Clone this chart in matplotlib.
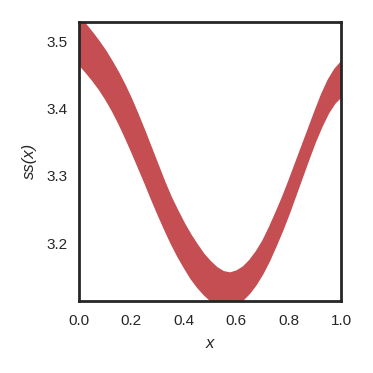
import numpy as np
import matplotlib
matplotlib.use("Agg")
import matplotlib.pyplot as plt
import seaborn as sns

x = [0.0, 0.025, 0.05, 0.075, 0.1, 0.125, 0.15, 0.175, 0.2, 0.225,
     0.25, 0.275, 0.3, 0.325, 0.35, 0.375, 0.4, 0.425, 0.45, 0.475,
     0.5, 0.525, 0.55, 0.575, 0.6, 0.625, 0.65, 0.675, 0.7, 0.725,
     0.75, 0.775, 0.8, 0.825, 0.85, 0.875, 0.9, 0.925, 0.95, 0.975, 1.0]
ss_upper = [3.537, 3.526, 3.514, 3.501, 3.487, 3.471, 3.454, 3.435, 3.414, 3.391,
            3.367, 3.342, 3.317, 3.292, 3.269, 3.249, 3.230, 3.213, 3.198, 3.184,
            3.173, 3.164, 3.158, 3.156, 3.159, 3.165, 3.175, 3.188, 3.204, 3.224,
            3.246, 3.269, 3.294, 3.320, 3.346, 3.372, 3.398, 3.423, 3.444, 3.460, 3.471]
ss_lower = [3.466, 3.455, 3.443, 3.430, 3.415, 3.398, 3.379, 3.358, 3.336, 3.313,
            3.290, 3.266, 3.243, 3.221, 3.200, 3.181, 3.164, 3.148, 3.135, 3.124,
            3.115, 3.109, 3.106, 3.106, 3.109, 3.116, 3.126, 3.139, 3.155, 3.174,
            3.196, 3.219, 3.244, 3.271, 3.298, 3.325, 3.351, 3.374, 3.394, 3.409, 3.419]

xlim = (0.0, 1.0)
ylim = (3.1136, 3.5298)
xticks = [0.0, 0.2, 0.4, 0.6, 0.8, 1.0]
yticks = [3.2, 3.3, 3.4, 3.5]

sns.set_theme(style="white", context="notebook")
plt.rcParams['font.family'] = ['Liberation Sans', 'DejaVu Sans']

red = "#C44E52"

fig = plt.figure(figsize=(3.73, 3.73), dpi=100)
ax = fig.add_axes([0.2118, 0.193, 0.7024, 0.7488])

ax.fill_between(x, ss_lower, ss_upper, color=red, lw=1.0, edgecolor=red)

ax.set_xlim(*xlim)
ax.set_ylim(*ylim)
ax.set_xticks(xticks)
ax.set_yticks(yticks)
ax.set_xticklabels([f"{t:.1f}" for t in xticks])
ax.set_yticklabels([f"{t:.1f}" for t in yticks])
ax.tick_params(labelsize=11, colors="#262626", length=0)
ax.tick_params(axis="x", pad=9)
ax.tick_params(axis="y", pad=8)

ax.set_xlabel("x", fontsize=12, fontstyle="italic", color="#262626", labelpad=6)
ax.set_ylabel("ss(x)", fontsize=12, fontstyle="italic", color="#262626", labelpad=7)

for s in ax.spines.values():
    s.set_color("#262626")
    s.set_linewidth(2.0)

fig.savefig("out.png", dpi=100)
